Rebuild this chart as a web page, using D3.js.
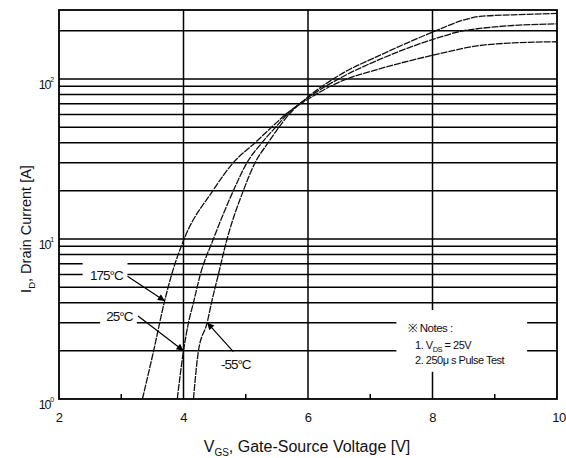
<!DOCTYPE html>
<html><head><meta charset="utf-8">
<script src="https://cdn.jsdelivr.net/npm/d3@7"></script>
<style>
html,body{margin:0;padding:0;background:#fff;}
svg text{font-family:"Liberation Sans",Arial,sans-serif;fill:#111;}
</style></head>
<body><svg id="c" width="566" height="458"></svg>
<script>
// ---- data ----
const xTicks = [2, 4, 6, 8, 10];
const xMinorTicks = [3, 5, 7, 9];
const xGridLines = [4, 6, 8];
const yGridLines = [2, 3, 4, 5, 6, 7, 8, 9, 10, 20, 30, 40, 50, 60, 70, 80, 90, 100, 200];
const yTickValues = [1, 10, 100];
const yTickExponents = ["0", "1", "2"];

const seriesNames = ["175°C", "25°C", "-55°C"];
const vgs175 = [3.34, 3.52, 3.69, 3.81, 4.01, 4.47, 4.80, 5.15, 5.44, 5.66, 5.98, 6.51, 7.16, 8.01, 8.76, 9.29, 10];
const id175  = [1, 2, 4, 6, 10, 20, 30, 40, 51, 61, 74, 96, 116, 141, 162, 168, 171];
const vgs25  = [3.90, 4.00, 4.08, 4.16, 4.27, 4.48, 4.80, 5.02, 5.26, 5.50, 5.68, 5.98, 6.51, 7.16, 8.01, 8.49, 8.76, 9.29, 10];
const id25   = [1, 2, 3, 4, 6, 10, 20, 30, 40, 51, 61, 75.5, 101, 133, 177, 200, 207, 216, 221];
const vgsM55 = [4.16, 4.24, 4.38, 4.45, 4.56, 4.70, 4.96, 5.15, 5.36, 5.55, 5.71, 5.98, 6.51, 7.16, 8.01, 8.49, 8.76, 9.29, 10];
const idM55  = [1, 2, 3, 4, 6, 10, 20, 30, 40, 51, 61, 76, 106, 141, 197, 233, 246, 252, 257];

// ---- layout ----
const svg = d3.select("#c");
const x = d3.scaleLinear().domain([2, 10]).range([59, 557]);
const y = d3.scaleLog().domain([1, 270]).range([399, 10]);
const gridW = 1.5;

// grid lines
svg.append("g").selectAll("line").data(yGridLines).join("line")
  .attr("x1", x(2)).attr("x2", x(10))
  .attr("y1", d => y(d)).attr("y2", d => y(d))
  .attr("stroke", "#000").attr("stroke-width", gridW);
svg.append("g").selectAll("line").data(xGridLines).join("line")
  .attr("x1", d => x(d)).attr("x2", d => x(d))
  .attr("y1", y.range()[0]).attr("y2", y.range()[1])
  .attr("stroke", "#000").attr("stroke-width", gridW);
// minor ticks on bottom
svg.append("g").selectAll("line").data(xMinorTicks).join("line")
  .attr("x1", d => x(d)).attr("x2", d => x(d))
  .attr("y1", y(1)).attr("y2", y(1) - 5)
  .attr("stroke", "#000").attr("stroke-width", gridW);

// white masks behind annotations (cut grid lines)
const masks = [
  {x0: 2.38, x1: 3.1, y0: 7.5, y1: 5.35},   // 175°C label
  {x0: 2.66, x1: 3.25, y0: 3.8, y1: 2.85},  // 25°C label
  {x0: 7.42, x1: 9.52, y0: 3.6, y1: 1.48}   // notes
];
svg.append("g").selectAll("rect").data(masks).join("rect")
  .attr("x", d => x(d.x0)).attr("y", d => y(d.y0))
  .attr("width", d => x(d.x1) - x(d.x0)).attr("height", d => y(d.y1) - y(d.y0))
  .attr("fill", "#fff");

// frame
svg.append("rect").attr("x", x(2)).attr("y", y(270))
  .attr("width", x(10) - x(2)).attr("height", y(1) - y(270))
  .attr("fill", "none").attr("stroke", "#000").attr("stroke-width", 1.8);

// curves
const series = [
  {name: seriesNames[0], v: vgs175, i: id175},
  {name: seriesNames[1], v: vgs25, i: id25},
  {name: seriesNames[2], v: vgsM55, i: idM55}
];
const line = d3.line().x(d => x(d[0])).y(d => y(d[1])).curve(d3.curveMonotoneX);
svg.append("g").selectAll("path").data(series).join("path")
  .attr("d", s => line(s.v.map((v, k) => [v, s.i[k]])))
  .attr("fill", "none").attr("stroke", "#111").attr("stroke-width", 1.3)
  .attr("stroke-dasharray", "7,1");

// x tick labels
svg.append("g").selectAll("text").data(xTicks).join("text")
  .attr("x", d => x(d) + (d === 10 ? 2 : 0)).attr("y", y(1) + 23)
  .attr("text-anchor", "middle").attr("font-size", 13).attr("letter-spacing", -0.6)
  .text(d => d);

// y tick labels 10^n
const yl = svg.append("g").selectAll("text").data(yTickValues).join("text")
  .attr("x", x(2) - 6).attr("y", d => y(d) + 10)
  .attr("text-anchor", "end").attr("font-size", 12.5).attr("letter-spacing", -1.2);
yl.append("tspan").text("10");
yl.append("tspan").attr("font-size", 7).attr("dy", -7).text((d, k) => yTickExponents[k]);

// axis titles
const xt = svg.append("text").attr("x", 307).attr("y", 452)
  .attr("text-anchor", "middle").attr("font-size", 16).attr("letter-spacing", 0);
xt.append("tspan").text("V");
xt.append("tspan").attr("font-size", 10).attr("dy", 4).text("GS");
xt.append("tspan").attr("dy", -4).text(", Gate-Source Voltage [V]");

const yt = svg.append("text").attr("transform", "translate(31,229) rotate(-90)")
  .attr("text-anchor", "middle").attr("font-size", 14.5).attr("letter-spacing", 0);
yt.append("tspan").text("I");
yt.append("tspan").attr("font-size", 9.5).attr("dy", 4).text("D");
yt.append("tspan").attr("dy", -4).text(", Drain Current [A]");

// annotations: labels + arrows (positions in data units)
const annos = [
  {label: seriesNames[0], lx: 2.76, ly: 5.95, sx: 3.1, sy: 5.85, tx: 3.70, ty: 4.1},
  {label: seriesNames[1], lx: 2.97, ly: 3.3, sx: 3.27, sy: 3.3, tx: 4.0, ty: 2.0},
  {label: seriesNames[2], lx: 4.84, ly: 1.66, sx: 4.8, sy: 1.98, tx: 4.38, ty: 3.0}
];
const defs = svg.append("defs");
defs.append("marker").attr("id", "ah").attr("viewBox", "0 0 10 10")
  .attr("refX", 10).attr("refY", 5).attr("markerWidth", 9).attr("markerHeight", 7)
  .attr("markerUnits", "userSpaceOnUse").attr("orient", "auto")
  .append("path").attr("d", "M0,0 L10,5 L0,10 Z").attr("fill", "#000");
svg.append("g").selectAll("line").data(annos).join("line")
  .attr("x1", d => x(d.sx)).attr("y1", d => y(d.sy))
  .attr("x2", d => x(d.tx)).attr("y2", d => y(d.ty))
  .attr("stroke", "#000").attr("stroke-width", 1.2).attr("marker-end", "url(#ah)");
svg.append("g").selectAll("text").data(annos).join("text")
  .attr("x", d => x(d.lx)).attr("y", d => y(d.ly) + 5)
  .attr("text-anchor", "middle").attr("font-size", 13.5).attr("letter-spacing", -1)
  .text(d => d.label);

// notes
const notes = svg.append("g");
const nx = x(7.72);
notes.append("text").attr("x", x(7.6)).attr("y", y(2.78) + 4).attr("font-size", 11.5)
  .attr("letter-spacing", -0.5)
  .text("※ Notes :");
const n1 = notes.append("text").attr("x", nx).attr("y", y(2.17) + 4).attr("font-size", 11).attr("letter-spacing", -0.5);
n1.append("tspan").text("1. V");
n1.append("tspan").attr("font-size", 7.5).attr("dy", 3).text("DS");
n1.append("tspan").attr("dy", -3).text(" = 25V");
notes.append("text").attr("x", nx).attr("y", y(1.75) + 4).attr("font-size", 11).attr("letter-spacing", -0.5)
  .text("2. 250μ s Pulse Test");
</script></body></html>
